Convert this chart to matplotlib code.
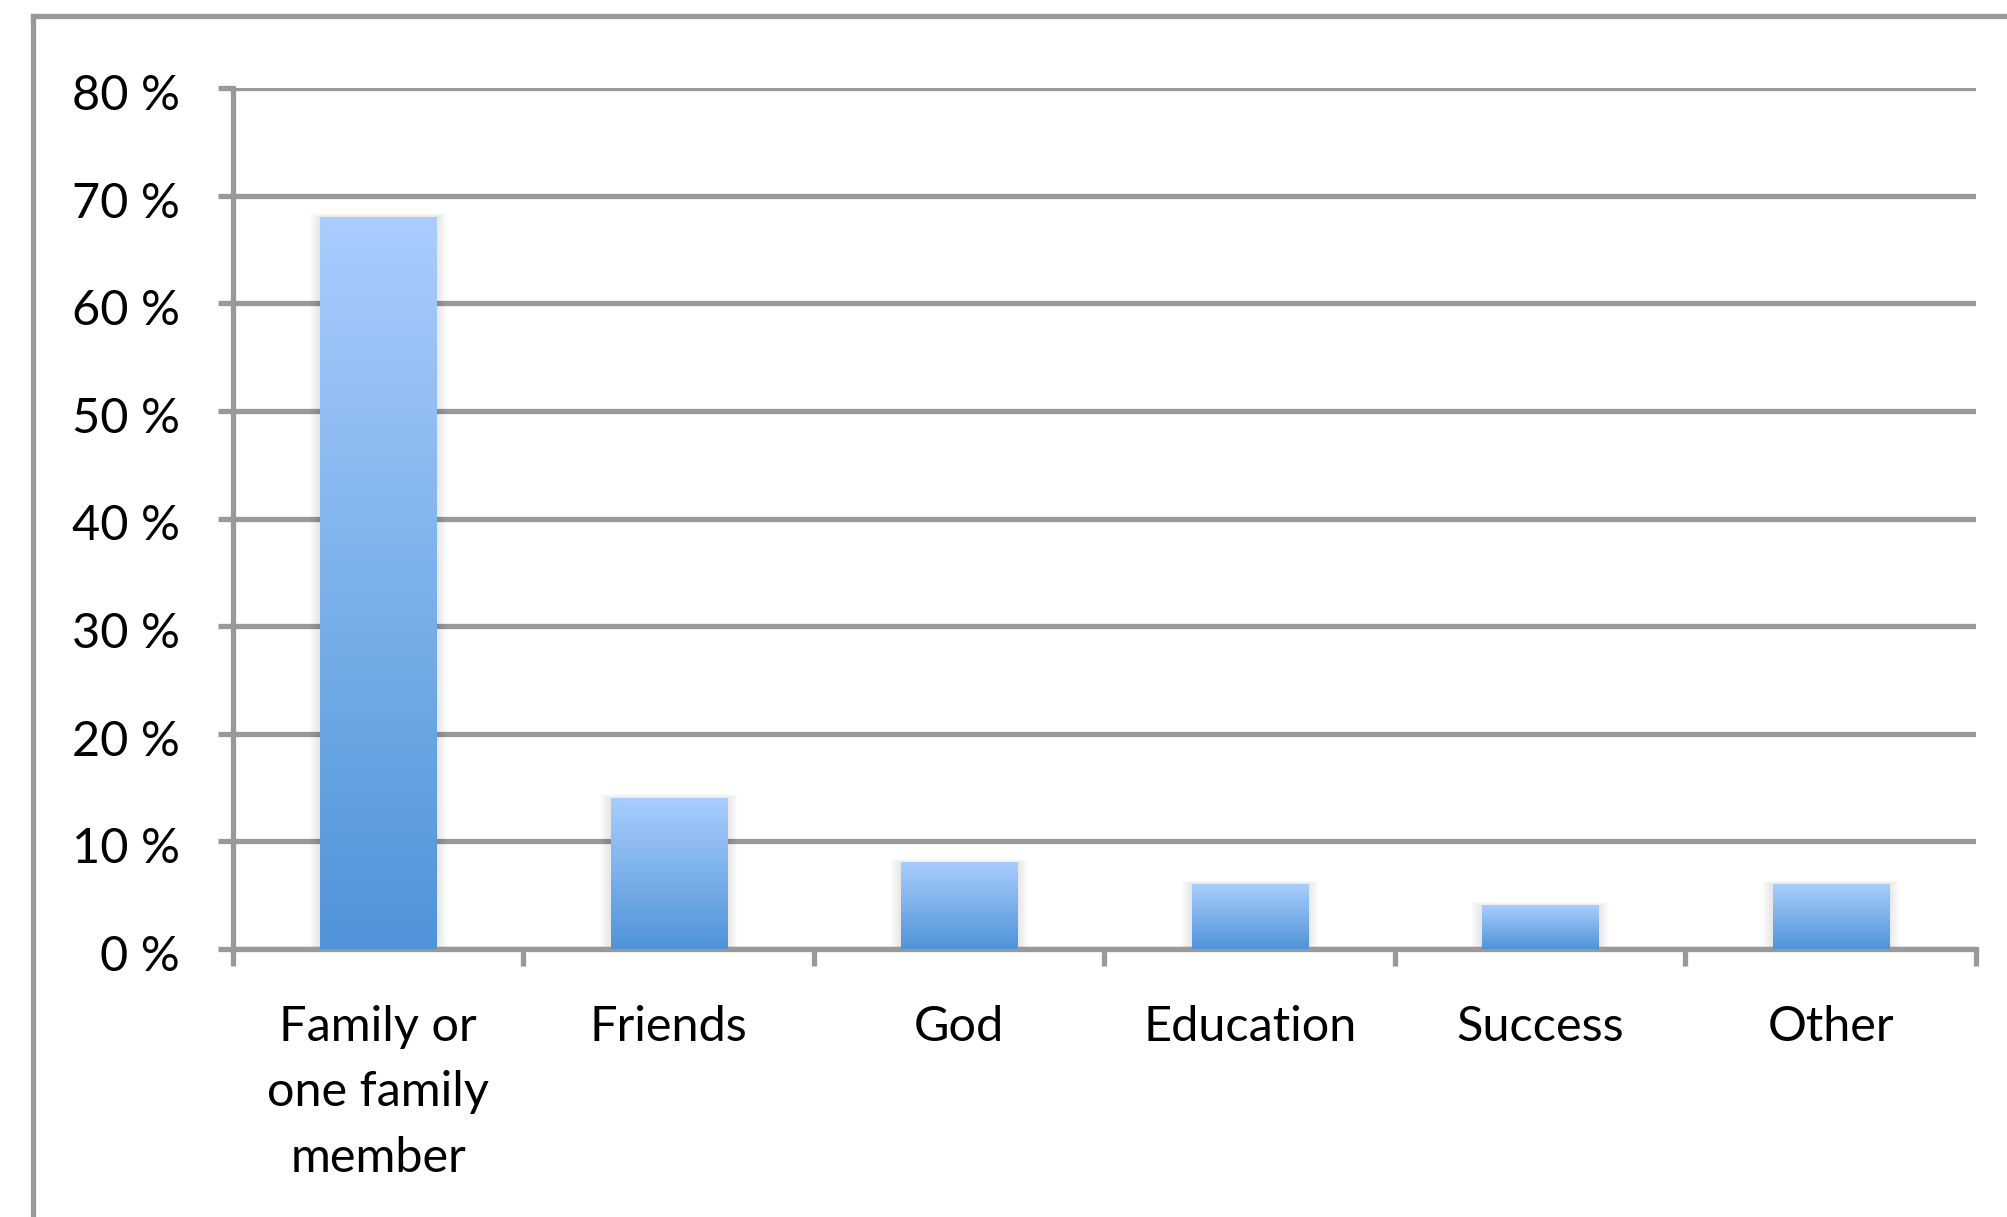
import numpy as np
import matplotlib
matplotlib.use('Agg')
from matplotlib import pyplot as plt
from matplotlib.colors import LinearSegmentedColormap
from matplotlib.patches import Rectangle
from matplotlib.lines import Line2D
from matplotlib.transforms import ScaledTranslation

# data
categories = ['Family or\none family\nmember', 'Friends', 'God', 'Education', 'Success', 'Other']
shares = [68, 14, 8, 6, 4, 6]
y_ticks = [0, 10, 20, 30, 40, 50, 60, 70, 80]

plt.rcParams['font.family'] = ['Lato', 'DejaVu Sans']
grid_grey = '#999999'
bar_cmap = LinearSegmentedColormap.from_list('bar', ['#4f94d8', '#a9cdfe'])

fig = plt.figure(figsize=(20.08, 12.17), dpi=100)
ax = fig.add_axes([233 / 2008, 1 - 949 / 1217, (1976 - 233) / 2008, (949 - 88) / 1217])

x = np.arange(len(categories))
width = 0.4
grad = np.linspace(0, 1, 256).reshape(-1, 1)

for xi, h in zip(x, shares):
    x0, x1 = xi - width / 2, xi + width / 2
    # soft shadow round each bar
    for k in range(1, 7):
        ax.add_patch(Rectangle((x0 - 0.006 * k, 0), width + 0.012 * k, h + 0.06 * k,
                               facecolor='black', edgecolor='none', alpha=0.016, zorder=2))
    # vertical gradient fill, dark at the base
    ax.imshow(grad, extent=[x0, x1, 0, h], origin='lower', aspect='auto',
              cmap=bar_cmap, zorder=3, interpolation='bicubic')

ax.set_xlim(-0.5, len(categories) - 0.5)
ax.set_ylim(0, 80)

ax.set_yticks(y_ticks)
ax.set_yticklabels([f'{v} %' for v in y_ticks])
ax.yaxis.grid(True, color=grid_grey, linewidth=3.8, zorder=1)
ax.set_axisbelow(True)

ax.set_xticks(x)
ax.set_xticklabels(categories, linespacing=1.6)
ax.set_xticks(np.arange(len(categories) + 1) - 0.5, minor=True)

ax.tick_params(axis='y', which='major', length=11, width=3.8, color=grid_grey,
               labelsize=35, pad=27)
ax.tick_params(axis='x', which='major', length=0, labelsize=35, pad=40)
ax.tick_params(axis='x', which='minor', length=12.5, width=3.8, color=grid_grey)

# nudge the percent labels a little below their gridlines
shift = ScaledTranslation(0, -4 / 100, fig.dpi_scale_trans)
for lab in ax.get_yticklabels():
    lab.set_transform(lab.get_transform() + shift)

for side in ['top', 'right']:
    ax.spines[side].set_visible(False)
for side in ['left', 'bottom']:
    ax.spines[side].set_color(grid_grey)
    ax.spines[side].set_linewidth(3.8)

# outer frame (left and top edges)
fig.add_artist(Line2D([33 / 2008, 33 / 2008], [0, 1 - 16 / 1217],
                      transform=fig.transFigure, color=grid_grey, linewidth=3.8,
                      solid_capstyle='projecting'))
fig.add_artist(Line2D([33 / 2008, 1], [1 - 16 / 1217, 1 - 16 / 1217],
                      transform=fig.transFigure, color=grid_grey, linewidth=3.8,
                      solid_capstyle='projecting'))

fig.savefig('out.png', dpi=100)
